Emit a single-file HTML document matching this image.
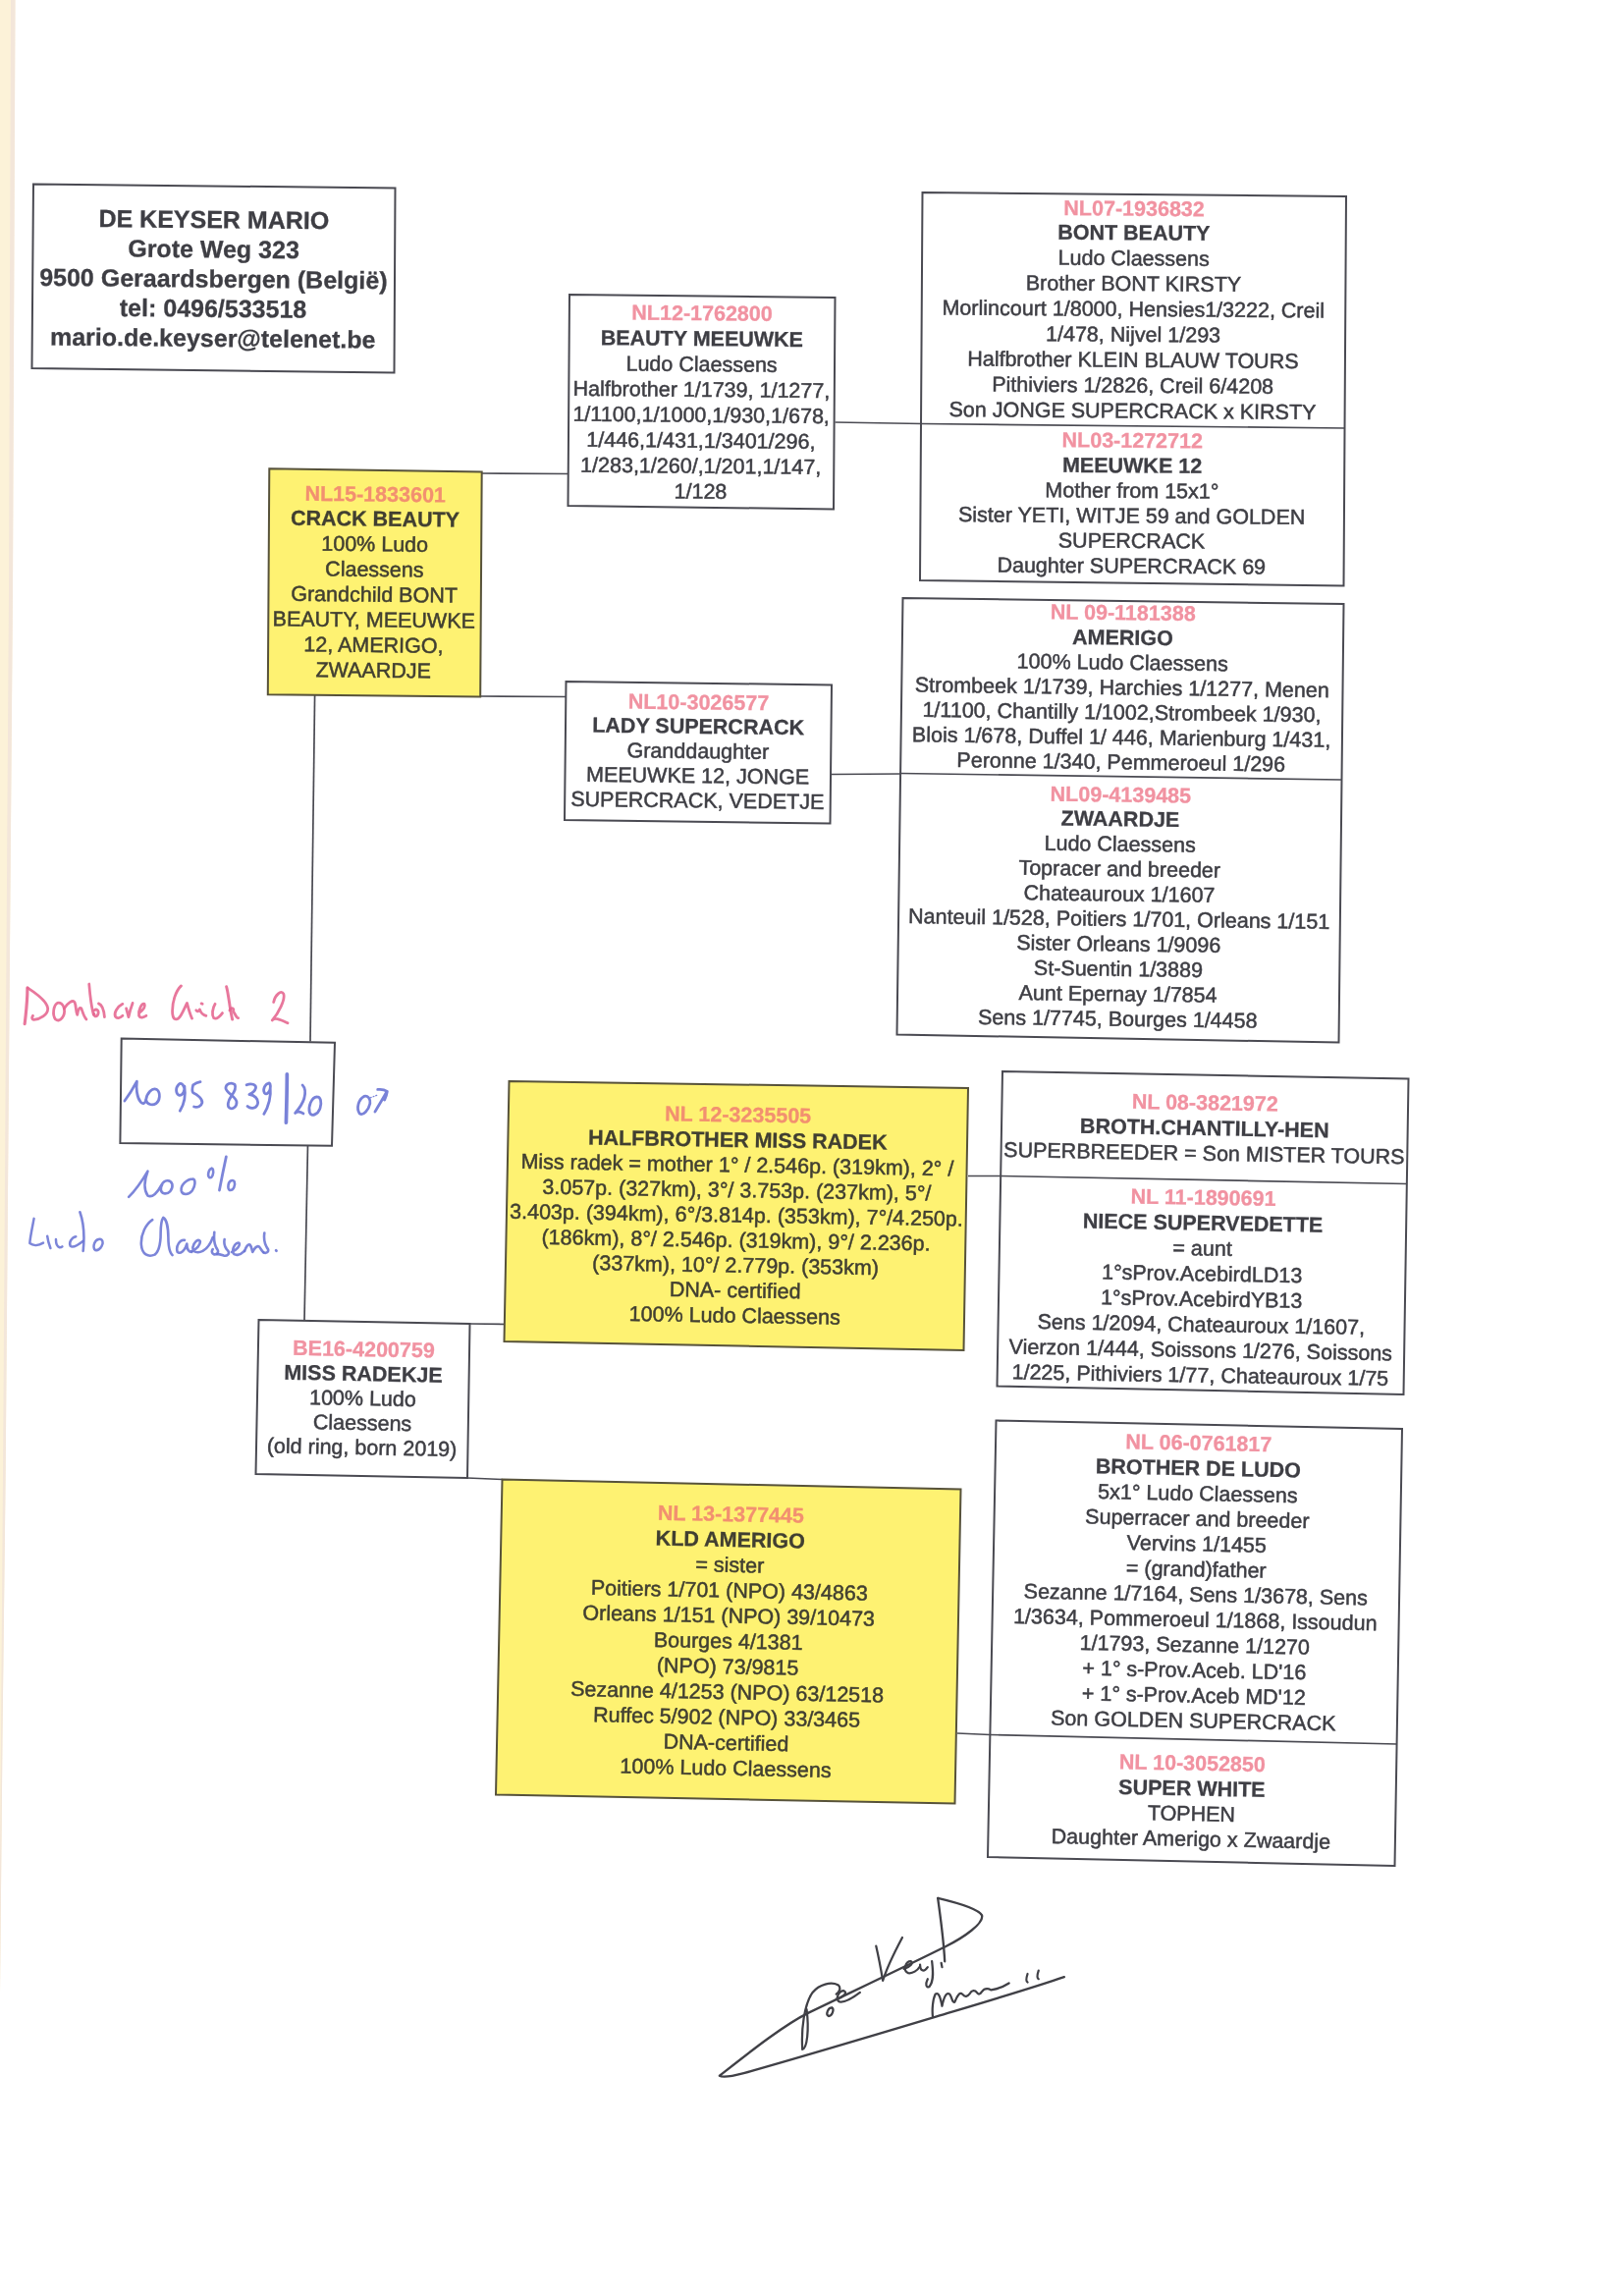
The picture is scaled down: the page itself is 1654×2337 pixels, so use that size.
<!DOCTYPE html>
<html><head><meta charset="utf-8"><title>Pedigree</title>
<style>
html,body{margin:0;padding:0;background:#ffffff;}
body{width:1654px;height:2337px;position:relative;overflow:hidden;font-family:"Liberation Sans",sans-serif;}
svg text{font-family:"Liberation Sans",sans-serif;}
</style></head><body>
<svg width="1654" height="2337" viewBox="0 0 1654 2337" style="position:absolute;left:0;top:0;filter:blur(0.6px)" font-family="Liberation Sans, sans-serif">
<defs><linearGradient id="sg" x1="0" x2="1" y1="0" y2="0"><stop offset="0" stop-color="#fdf4d6"/><stop offset="0.6" stop-color="#fcf1d8"/><stop offset="1" stop-color="#f4e6da"/></linearGradient></defs>
<polygon points="0,0 15.5,0 13,600 5.7,1500 2.6,1761 0,2030" fill="#fcf2d8"/>
<polygon points="11,0 15.5,0 13,600 5.7,1500 2.6,1761 0,2030 0,1900 3,1500 9,600" fill="#f3e6da"/>
<line x1="490.5" y1="482.0" x2="580.0" y2="482.5" stroke="#4a4a52" stroke-width="1.7"/>
<line x1="850.5" y1="430.0" x2="940.0" y2="431.5" stroke="#4a4a52" stroke-width="1.7"/>
<line x1="489.0" y1="709.0" x2="576.5" y2="709.5" stroke="#4a4a52" stroke-width="1.7"/>
<line x1="847.0" y1="788.5" x2="918.5" y2="788.0" stroke="#4a4a52" stroke-width="1.7"/>
<line x1="320.6" y1="707.0" x2="316.0" y2="1060.5" stroke="#4a4a52" stroke-width="1.7"/>
<line x1="313.5" y1="1165.0" x2="310.0" y2="1345.0" stroke="#4a4a52" stroke-width="1.7"/>
<line x1="478.5" y1="1348.0" x2="518.0" y2="1348.5" stroke="#4a4a52" stroke-width="1.7"/>
<line x1="476.0" y1="1505.0" x2="511.5" y2="1506.5" stroke="#4a4a52" stroke-width="1.7"/>
<line x1="986.0" y1="1197.5" x2="1021.0" y2="1197.5" stroke="#4a4a52" stroke-width="1.7"/>
<line x1="975.0" y1="1765.0" x2="1008.5" y2="1766.5" stroke="#4a4a52" stroke-width="1.7"/>
<polygon points="34.0,187.5 402.5,191.5 401.5,379.5 32.5,375.0" fill="#ffffff" stroke="#4a4a52" stroke-width="2" stroke-linejoin="miter"/>
<text x="217.9" y="232.2" transform="rotate(0.54 217.9 223.2)" text-anchor="middle" font-size="25" font-weight="bold" fill="#3e3e44" stroke="#3e3e44" stroke-width="0.3">DE KEYSER MARIO</text>
<text x="217.6" y="262.4" transform="rotate(0.54 217.6 253.4)" text-anchor="middle" font-size="25" font-weight="bold" fill="#3e3e44" stroke="#3e3e44" stroke-width="0.3">Grote Weg 323</text>
<text x="217.4" y="292.6" transform="rotate(0.54 217.4 283.6)" text-anchor="middle" font-size="25" font-weight="bold" fill="#3e3e44" stroke="#3e3e44" stroke-width="0.3">9500 Geraardsbergen (België)</text>
<text x="217.1" y="322.8" transform="rotate(0.54 217.1 313.9)" text-anchor="middle" font-size="25" font-weight="bold" fill="#3e3e44" stroke="#3e3e44" stroke-width="0.3">tel: 0496/533518</text>
<text x="216.8" y="353.0" transform="rotate(0.54 216.8 344.1)" text-anchor="middle" font-size="25" font-weight="bold" fill="#3e3e44" stroke="#3e3e44" stroke-width="0.3">mario.de.keyser@telenet.be</text>
<polygon points="939.5,196.0 1371.0,200.0 1368.5,596.5 937.0,591.0" fill="#ffffff" stroke="#4a4a52" stroke-width="2" stroke-linejoin="miter"/>
<line x1="938.5" y1="431.5" x2="1370.0" y2="436.0" stroke="#4a4a52" stroke-width="1.7"/>
<text x="1155.1" y="219.7" transform="rotate(0.45 1155.1 212.0)" text-anchor="middle" font-size="21.5" font-weight="bold" fill="#f192a1" stroke="#f192a1" stroke-width="0.3">NL07-1936832</text>
<text x="1154.9" y="244.3" transform="rotate(0.45 1154.9 236.6)" text-anchor="middle" font-size="21.5" font-weight="bold" fill="#3e3e44" stroke="#3e3e44" stroke-width="0.3">BONT BEAUTY</text>
<text x="1154.7" y="270.2" transform="rotate(0.45 1154.7 262.5)" text-anchor="middle" font-size="21.5" font-weight="normal" fill="#3e3e44" stroke="#3e3e44" stroke-width="0.5">Ludo Claessens</text>
<text x="1154.5" y="296.1" transform="rotate(0.45 1154.5 288.4)" text-anchor="middle" font-size="21.5" font-weight="normal" fill="#3e3e44" stroke="#3e3e44" stroke-width="0.5">Brother BONT KIRSTY</text>
<text x="1154.3" y="322.0" transform="rotate(0.45 1154.3 314.3)" text-anchor="middle" font-size="21.5" font-weight="normal" fill="#3e3e44" stroke="#3e3e44" stroke-width="0.5">Morlincourt 1/8000, Hensies1/3222, Creil</text>
<text x="1154.1" y="347.9" transform="rotate(0.45 1154.1 340.2)" text-anchor="middle" font-size="21.5" font-weight="normal" fill="#3e3e44" stroke="#3e3e44" stroke-width="0.5">1/478, Nijvel 1/293</text>
<text x="1153.9" y="373.8" transform="rotate(0.45 1153.9 366.1)" text-anchor="middle" font-size="21.5" font-weight="normal" fill="#3e3e44" stroke="#3e3e44" stroke-width="0.5">Halfbrother KLEIN BLAUW TOURS</text>
<text x="1153.7" y="399.7" transform="rotate(0.45 1153.7 392.0)" text-anchor="middle" font-size="21.5" font-weight="normal" fill="#3e3e44" stroke="#3e3e44" stroke-width="0.5">Pithiviers 1/2826, Creil 6/4208</text>
<text x="1153.5" y="425.6" transform="rotate(0.45 1153.5 417.9)" text-anchor="middle" font-size="21.5" font-weight="normal" fill="#3e3e44" stroke="#3e3e44" stroke-width="0.5">Son JONGE SUPERCRACK x KIRSTY</text>
<text x="1153.3" y="455.8" transform="rotate(0.45 1153.3 448.1)" text-anchor="middle" font-size="21.5" font-weight="bold" fill="#f192a1" stroke="#f192a1" stroke-width="0.3">NL03-1272712</text>
<text x="1153.1" y="481.4" transform="rotate(0.45 1153.1 473.7)" text-anchor="middle" font-size="21.5" font-weight="bold" fill="#3e3e44" stroke="#3e3e44" stroke-width="0.3">MEEUWKE 12</text>
<text x="1152.9" y="506.9" transform="rotate(0.45 1152.9 499.2)" text-anchor="middle" font-size="21.5" font-weight="normal" fill="#3e3e44" stroke="#3e3e44" stroke-width="0.5">Mother from 15x1°</text>
<text x="1152.7" y="532.5" transform="rotate(0.45 1152.7 524.8)" text-anchor="middle" font-size="21.5" font-weight="normal" fill="#3e3e44" stroke="#3e3e44" stroke-width="0.5">Sister YETI, WITJE 59 and GOLDEN</text>
<text x="1152.5" y="558.0" transform="rotate(0.45 1152.5 550.3)" text-anchor="middle" font-size="21.5" font-weight="normal" fill="#3e3e44" stroke="#3e3e44" stroke-width="0.5">SUPERCRACK</text>
<text x="1152.3" y="583.6" transform="rotate(0.45 1152.3 575.9)" text-anchor="middle" font-size="21.5" font-weight="normal" fill="#3e3e44" stroke="#3e3e44" stroke-width="0.5">Daughter SUPERCRACK 69</text>
<polygon points="919.5,609.0 1368.5,615.0 1363.5,1061.5 913.5,1053.5" fill="#ffffff" stroke="#4a4a52" stroke-width="2" stroke-linejoin="miter"/>
<line x1="916.5" y1="787.5" x2="1366.0" y2="794.0" stroke="#4a4a52" stroke-width="1.7"/>
<text x="1143.8" y="631.2" transform="rotate(0.77 1143.8 623.5)" text-anchor="middle" font-size="21.5" font-weight="bold" fill="#f192a1" stroke="#f192a1" stroke-width="0.3">NL 09-1181388</text>
<text x="1143.5" y="656.6" transform="rotate(0.77 1143.5 648.9)" text-anchor="middle" font-size="21.5" font-weight="bold" fill="#3e3e44" stroke="#3e3e44" stroke-width="0.3">AMERIGO</text>
<text x="1143.2" y="681.9" transform="rotate(0.77 1143.2 674.2)" text-anchor="middle" font-size="21.5" font-weight="normal" fill="#3e3e44" stroke="#3e3e44" stroke-width="0.5">100% Ludo Claessens</text>
<text x="1142.8" y="707.3" transform="rotate(0.77 1142.8 699.6)" text-anchor="middle" font-size="21.5" font-weight="normal" fill="#3e3e44" stroke="#3e3e44" stroke-width="0.5">Strombeek 1/1739, Harchies 1/1277, Menen</text>
<text x="1142.5" y="732.6" transform="rotate(0.77 1142.5 724.9)" text-anchor="middle" font-size="21.5" font-weight="normal" fill="#3e3e44" stroke="#3e3e44" stroke-width="0.5">1/1100, Chantilly 1/1002,Strombeek 1/930,</text>
<text x="1142.1" y="758.0" transform="rotate(0.77 1142.1 750.3)" text-anchor="middle" font-size="21.5" font-weight="normal" fill="#3e3e44" stroke="#3e3e44" stroke-width="0.5">Blois 1/678, Duffel 1/ 446, Marienburg 1/431,</text>
<text x="1141.8" y="783.3" transform="rotate(0.77 1141.8 775.6)" text-anchor="middle" font-size="21.5" font-weight="normal" fill="#3e3e44" stroke="#3e3e44" stroke-width="0.5">Peronne 1/340, Pemmeroeul 1/296</text>
<text x="1141.4" y="816.6" transform="rotate(0.77 1141.4 808.9)" text-anchor="middle" font-size="21.5" font-weight="bold" fill="#f192a1" stroke="#f192a1" stroke-width="0.3">NL09-4139485</text>
<text x="1141.0" y="841.2" transform="rotate(0.77 1141.0 833.6)" text-anchor="middle" font-size="21.5" font-weight="bold" fill="#3e3e44" stroke="#3e3e44" stroke-width="0.3">ZWAARDJE</text>
<text x="1140.7" y="866.7" transform="rotate(0.77 1140.7 859.0)" text-anchor="middle" font-size="21.5" font-weight="normal" fill="#3e3e44" stroke="#3e3e44" stroke-width="0.5">Ludo Claessens</text>
<text x="1140.3" y="892.1" transform="rotate(0.77 1140.3 884.5)" text-anchor="middle" font-size="21.5" font-weight="normal" fill="#3e3e44" stroke="#3e3e44" stroke-width="0.5">Topracer and breeder</text>
<text x="1140.0" y="917.6" transform="rotate(0.77 1140.0 909.9)" text-anchor="middle" font-size="21.5" font-weight="normal" fill="#3e3e44" stroke="#3e3e44" stroke-width="0.5">Chateauroux 1/1607</text>
<text x="1139.7" y="943.0" transform="rotate(0.77 1139.7 935.4)" text-anchor="middle" font-size="21.5" font-weight="normal" fill="#3e3e44" stroke="#3e3e44" stroke-width="0.5">Nanteuil 1/528, Poitiers 1/701, Orleans 1/151</text>
<text x="1139.3" y="968.5" transform="rotate(0.77 1139.3 960.8)" text-anchor="middle" font-size="21.5" font-weight="normal" fill="#3e3e44" stroke="#3e3e44" stroke-width="0.5">Sister Orleans 1/9096</text>
<text x="1139.0" y="993.9" transform="rotate(0.77 1139.0 986.3)" text-anchor="middle" font-size="21.5" font-weight="normal" fill="#3e3e44" stroke="#3e3e44" stroke-width="0.5">St-Suentin 1/3889</text>
<text x="1138.6" y="1019.4" transform="rotate(0.77 1138.6 1011.7)" text-anchor="middle" font-size="21.5" font-weight="normal" fill="#3e3e44" stroke="#3e3e44" stroke-width="0.5">Aunt Epernay 1/7854</text>
<text x="1138.3" y="1044.8" transform="rotate(0.77 1138.3 1037.2)" text-anchor="middle" font-size="21.5" font-weight="normal" fill="#3e3e44" stroke="#3e3e44" stroke-width="0.5">Sens 1/7745, Bourges 1/4458</text>
<polygon points="580.0,300.0 850.5,303.0 849.0,518.5 578.5,515.0" fill="#ffffff" stroke="#4a4a52" stroke-width="2" stroke-linejoin="miter"/>
<text x="715.1" y="326.2" transform="rotate(0.52 715.1 318.5)" text-anchor="middle" font-size="21.5" font-weight="bold" fill="#f192a1" stroke="#f192a1" stroke-width="0.3">NL12-1762800</text>
<text x="714.9" y="352.1" transform="rotate(0.52 714.9 344.4)" text-anchor="middle" font-size="21.5" font-weight="bold" fill="#3e3e44" stroke="#3e3e44" stroke-width="0.3">BEAUTY MEEUWKE</text>
<text x="714.6" y="378.1" transform="rotate(0.52 714.6 370.4)" text-anchor="middle" font-size="21.5" font-weight="normal" fill="#3e3e44" stroke="#3e3e44" stroke-width="0.5">Ludo Claessens</text>
<text x="714.4" y="404.0" transform="rotate(0.52 714.4 396.3)" text-anchor="middle" font-size="21.5" font-weight="normal" fill="#3e3e44" stroke="#3e3e44" stroke-width="0.5">Halfbrother 1/1739, 1/1277,</text>
<text x="714.2" y="429.9" transform="rotate(0.52 714.2 422.2)" text-anchor="middle" font-size="21.5" font-weight="normal" fill="#3e3e44" stroke="#3e3e44" stroke-width="0.5">1/1100,1/1000,1/930,1/678,</text>
<text x="713.9" y="455.9" transform="rotate(0.52 713.9 448.2)" text-anchor="middle" font-size="21.5" font-weight="normal" fill="#3e3e44" stroke="#3e3e44" stroke-width="0.5">1/446,1/431,1/3401/296,</text>
<text x="713.7" y="481.8" transform="rotate(0.52 713.7 474.1)" text-anchor="middle" font-size="21.5" font-weight="normal" fill="#3e3e44" stroke="#3e3e44" stroke-width="0.5">1/283,1/260/,1/201,1/147,</text>
<text x="713.5" y="507.7" transform="rotate(0.52 713.5 500.0)" text-anchor="middle" font-size="21.5" font-weight="normal" fill="#3e3e44" stroke="#3e3e44" stroke-width="0.5">1/128</text>
<polygon points="274.3,477.2 490.7,480.6 489.2,709.6 272.8,707.2" fill="#fef272" stroke="#57523a" stroke-width="2" stroke-linejoin="miter"/>
<text x="382.2" y="510.6" transform="rotate(0.64 382.2 502.9)" text-anchor="middle" font-size="21.5" font-weight="bold" fill="#f29070" stroke="#f29070" stroke-width="0.3">NL15-1833601</text>
<text x="382.0" y="535.6" transform="rotate(0.64 382.0 527.9)" text-anchor="middle" font-size="21.5" font-weight="bold" fill="#413f31" stroke="#413f31" stroke-width="0.3">CRACK BEAUTY</text>
<text x="381.7" y="561.3" transform="rotate(0.64 381.7 553.6)" text-anchor="middle" font-size="21.5" font-weight="normal" fill="#413f31" stroke="#413f31" stroke-width="0.5">100% Ludo</text>
<text x="381.4" y="587.0" transform="rotate(0.64 381.4 579.3)" text-anchor="middle" font-size="21.5" font-weight="normal" fill="#413f31" stroke="#413f31" stroke-width="0.5">Claessens</text>
<text x="381.1" y="612.7" transform="rotate(0.64 381.1 605.0)" text-anchor="middle" font-size="21.5" font-weight="normal" fill="#413f31" stroke="#413f31" stroke-width="0.5">Grandchild BONT</text>
<text x="380.8" y="638.4" transform="rotate(0.64 380.8 630.7)" text-anchor="middle" font-size="21.5" font-weight="normal" fill="#413f31" stroke="#413f31" stroke-width="0.5">BEAUTY, MEEUWKE</text>
<text x="380.5" y="664.1" transform="rotate(0.64 380.5 656.4)" text-anchor="middle" font-size="21.5" font-weight="normal" fill="#413f31" stroke="#413f31" stroke-width="0.5">12, AMERIGO,</text>
<text x="380.2" y="689.8" transform="rotate(0.64 380.2 682.1)" text-anchor="middle" font-size="21.5" font-weight="normal" fill="#413f31" stroke="#413f31" stroke-width="0.5">ZWAARDJE</text>
<polygon points="576.5,694.0 847.0,697.5 845.5,838.5 575.0,835.0" fill="#ffffff" stroke="#4a4a52" stroke-width="2" stroke-linejoin="miter"/>
<text x="711.5" y="722.4" transform="rotate(0.68 711.5 714.7)" text-anchor="middle" font-size="21.5" font-weight="bold" fill="#f192a1" stroke="#f192a1" stroke-width="0.3">NL10-3026577</text>
<text x="711.2" y="746.9" transform="rotate(0.68 711.2 739.3)" text-anchor="middle" font-size="21.5" font-weight="bold" fill="#3e3e44" stroke="#3e3e44" stroke-width="0.3">LADY SUPERCRACK</text>
<text x="710.9" y="772.1" transform="rotate(0.68 710.9 764.4)" text-anchor="middle" font-size="21.5" font-weight="normal" fill="#3e3e44" stroke="#3e3e44" stroke-width="0.5">Granddaughter</text>
<text x="710.6" y="797.2" transform="rotate(0.68 710.6 789.6)" text-anchor="middle" font-size="21.5" font-weight="normal" fill="#3e3e44" stroke="#3e3e44" stroke-width="0.5">MEEUWKE 12, JONGE</text>
<text x="710.3" y="822.4" transform="rotate(0.68 710.3 814.7)" text-anchor="middle" font-size="21.5" font-weight="normal" fill="#3e3e44" stroke="#3e3e44" stroke-width="0.5">SUPERCRACK, VEDETJE</text>
<polygon points="123.7,1057.6 341.0,1061.8 338.0,1166.8 122.4,1164.0" fill="#ffffff" stroke="#4a4a52" stroke-width="2" stroke-linejoin="miter"/>
<polygon points="263.5,1344.0 478.5,1348.0 476.0,1505.0 260.5,1501.0" fill="#ffffff" stroke="#4a4a52" stroke-width="2" stroke-linejoin="miter"/>
<text x="370.5" y="1381.2" transform="rotate(1.08 370.5 1373.5)" text-anchor="middle" font-size="21.5" font-weight="bold" fill="#f192a1" stroke="#f192a1" stroke-width="0.3">BE16-4200759</text>
<text x="370.0" y="1406.2" transform="rotate(1.08 370.0 1398.5)" text-anchor="middle" font-size="21.5" font-weight="bold" fill="#3e3e44" stroke="#3e3e44" stroke-width="0.3">MISS RADEKJE</text>
<text x="369.5" y="1431.2" transform="rotate(1.08 369.5 1423.5)" text-anchor="middle" font-size="21.5" font-weight="normal" fill="#3e3e44" stroke="#3e3e44" stroke-width="0.5">100% Ludo</text>
<text x="369.1" y="1456.2" transform="rotate(1.08 369.1 1448.5)" text-anchor="middle" font-size="21.5" font-weight="normal" fill="#3e3e44" stroke="#3e3e44" stroke-width="0.5">Claessens</text>
<text x="368.6" y="1481.2" transform="rotate(1.08 368.6 1473.5)" text-anchor="middle" font-size="21.5" font-weight="normal" fill="#3e3e44" stroke="#3e3e44" stroke-width="0.5">(old ring, born 2019)</text>
<polygon points="518.5,1101.0 986.0,1108.0 981.5,1375.0 513.5,1366.0" fill="#fef272" stroke="#57523a" stroke-width="2" stroke-linejoin="miter"/>
<text x="751.7" y="1142.4" transform="rotate(0.97 751.7 1134.7)" text-anchor="middle" font-size="21.5" font-weight="bold" fill="#f29070" stroke="#f29070" stroke-width="0.3">NL 12-3235505</text>
<text x="751.3" y="1168.0" transform="rotate(0.97 751.3 1160.3)" text-anchor="middle" font-size="21.5" font-weight="bold" fill="#413f31" stroke="#413f31" stroke-width="0.3">HALFBROTHER MISS RADEK</text>
<text x="750.9" y="1193.5" transform="rotate(0.97 750.9 1185.8)" text-anchor="middle" font-size="21.5" font-weight="normal" fill="#413f31" stroke="#413f31" stroke-width="0.5">Miss radek = mother 1° / 2.546p. (319km), 2° /</text>
<text x="750.4" y="1219.1" transform="rotate(0.97 750.4 1211.4)" text-anchor="middle" font-size="21.5" font-weight="normal" fill="#413f31" stroke="#413f31" stroke-width="0.5">3.057p. (327km), 3°/ 3.753p. (237km), 5°/</text>
<text x="750.0" y="1244.6" transform="rotate(0.97 750.0 1236.9)" text-anchor="middle" font-size="21.5" font-weight="normal" fill="#413f31" stroke="#413f31" stroke-width="0.5">3.403p. (394km), 6°/3.814p. (353km), 7°/4.250p.</text>
<text x="749.6" y="1270.2" transform="rotate(0.97 749.6 1262.5)" text-anchor="middle" font-size="21.5" font-weight="normal" fill="#413f31" stroke="#413f31" stroke-width="0.5">(186km), 8°/ 2.546p. (319km), 9°/ 2.236p.</text>
<text x="749.1" y="1295.7" transform="rotate(0.97 749.1 1288.0)" text-anchor="middle" font-size="21.5" font-weight="normal" fill="#413f31" stroke="#413f31" stroke-width="0.5">(337km), 10°/ 2.779p. (353km)</text>
<text x="748.7" y="1321.2" transform="rotate(0.97 748.7 1313.6)" text-anchor="middle" font-size="21.5" font-weight="normal" fill="#413f31" stroke="#413f31" stroke-width="0.5">DNA- certified</text>
<text x="748.3" y="1346.8" transform="rotate(0.97 748.3 1339.1)" text-anchor="middle" font-size="21.5" font-weight="normal" fill="#413f31" stroke="#413f31" stroke-width="0.5">100% Ludo Claessens</text>
<polygon points="511.5,1506.5 978.5,1516.5 972.5,1836.5 505.0,1827.5" fill="#fef272" stroke="#57523a" stroke-width="2" stroke-linejoin="miter"/>
<text x="744.4" y="1549.2" transform="rotate(1.19 744.4 1541.5)" text-anchor="middle" font-size="21.5" font-weight="bold" fill="#f29070" stroke="#f29070" stroke-width="0.3">NL 13-1377445</text>
<text x="743.8" y="1575.0" transform="rotate(1.19 743.8 1567.4)" text-anchor="middle" font-size="21.5" font-weight="bold" fill="#413f31" stroke="#413f31" stroke-width="0.3">KLD AMERIGO</text>
<text x="743.3" y="1600.9" transform="rotate(1.19 743.3 1593.2)" text-anchor="middle" font-size="21.5" font-weight="normal" fill="#413f31" stroke="#413f31" stroke-width="0.5">= sister</text>
<text x="742.8" y="1626.8" transform="rotate(1.19 742.8 1619.1)" text-anchor="middle" font-size="21.5" font-weight="normal" fill="#413f31" stroke="#413f31" stroke-width="0.5">Poitiers 1/701 (NPO) 43/4863</text>
<text x="742.2" y="1652.6" transform="rotate(1.19 742.2 1644.9)" text-anchor="middle" font-size="21.5" font-weight="normal" fill="#413f31" stroke="#413f31" stroke-width="0.5">Orleans 1/151 (NPO) 39/10473</text>
<text x="741.7" y="1678.5" transform="rotate(1.19 741.7 1670.8)" text-anchor="middle" font-size="21.5" font-weight="normal" fill="#413f31" stroke="#413f31" stroke-width="0.5">Bourges 4/1381</text>
<text x="741.1" y="1704.3" transform="rotate(1.19 741.1 1696.6)" text-anchor="middle" font-size="21.5" font-weight="normal" fill="#413f31" stroke="#413f31" stroke-width="0.5">(NPO) 73/9815</text>
<text x="740.6" y="1730.2" transform="rotate(1.19 740.6 1722.5)" text-anchor="middle" font-size="21.5" font-weight="normal" fill="#413f31" stroke="#413f31" stroke-width="0.5">Sezanne 4/1253 (NPO) 63/12518</text>
<text x="740.1" y="1756.0" transform="rotate(1.19 740.1 1748.3)" text-anchor="middle" font-size="21.5" font-weight="normal" fill="#413f31" stroke="#413f31" stroke-width="0.5">Ruffec 5/902 (NPO) 33/3465</text>
<text x="739.5" y="1781.9" transform="rotate(1.19 739.5 1774.2)" text-anchor="middle" font-size="21.5" font-weight="normal" fill="#413f31" stroke="#413f31" stroke-width="0.5">DNA-certified</text>
<text x="739.0" y="1807.7" transform="rotate(1.19 739.0 1800.0)" text-anchor="middle" font-size="21.5" font-weight="normal" fill="#413f31" stroke="#413f31" stroke-width="0.5">100% Ludo Claessens</text>
<polygon points="1021.0,1091.0 1434.5,1098.5 1429.5,1420.0 1015.5,1411.5" fill="#ffffff" stroke="#4a4a52" stroke-width="2" stroke-linejoin="miter"/>
<line x1="1019.0" y1="1197.5" x2="1432.5" y2="1205.5" stroke="#4a4a52" stroke-width="1.7"/>
<text x="1227.3" y="1130.2" transform="rotate(1.01 1227.3 1122.5)" text-anchor="middle" font-size="21.5" font-weight="bold" fill="#f192a1" stroke="#f192a1" stroke-width="0.3">NL 08-3821972</text>
<text x="1226.8" y="1156.0" transform="rotate(1.01 1226.8 1148.3)" text-anchor="middle" font-size="21.5" font-weight="bold" fill="#3e3e44" stroke="#3e3e44" stroke-width="0.3">BROTH.CHANTILLY-HEN</text>
<text x="1226.4" y="1181.7" transform="rotate(1.01 1226.4 1174.0)" text-anchor="middle" font-size="21.5" font-weight="normal" fill="#3e3e44" stroke="#3e3e44" stroke-width="0.5">SUPERBREEDER = Son MISTER TOURS</text>
<text x="1225.6" y="1226.7" transform="rotate(1.01 1225.6 1219.0)" text-anchor="middle" font-size="21.5" font-weight="bold" fill="#f192a1" stroke="#f192a1" stroke-width="0.3">NL 11-1890691</text>
<text x="1225.1" y="1252.6" transform="rotate(1.01 1225.1 1244.9)" text-anchor="middle" font-size="21.5" font-weight="bold" fill="#3e3e44" stroke="#3e3e44" stroke-width="0.3">NIECE SUPERVEDETTE</text>
<text x="1224.6" y="1278.4" transform="rotate(1.01 1224.6 1270.7)" text-anchor="middle" font-size="21.5" font-weight="normal" fill="#3e3e44" stroke="#3e3e44" stroke-width="0.5">= aunt</text>
<text x="1224.2" y="1304.3" transform="rotate(1.01 1224.2 1296.6)" text-anchor="middle" font-size="21.5" font-weight="normal" fill="#3e3e44" stroke="#3e3e44" stroke-width="0.5">1°sProv.AcebirdLD13</text>
<text x="1223.7" y="1330.1" transform="rotate(1.01 1223.7 1322.4)" text-anchor="middle" font-size="21.5" font-weight="normal" fill="#3e3e44" stroke="#3e3e44" stroke-width="0.5">1°sProv.AcebirdYB13</text>
<text x="1223.3" y="1356.0" transform="rotate(1.01 1223.3 1348.3)" text-anchor="middle" font-size="21.5" font-weight="normal" fill="#3e3e44" stroke="#3e3e44" stroke-width="0.5">Sens 1/2094, Chateauroux 1/1607,</text>
<text x="1222.8" y="1381.9" transform="rotate(1.01 1222.8 1374.2)" text-anchor="middle" font-size="21.5" font-weight="normal" fill="#3e3e44" stroke="#3e3e44" stroke-width="0.5">Vierzon 1/444, Soissons 1/276, Soissons</text>
<text x="1222.4" y="1407.7" transform="rotate(1.01 1222.4 1400.0)" text-anchor="middle" font-size="21.5" font-weight="normal" fill="#3e3e44" stroke="#3e3e44" stroke-width="0.5">1/225, Pithiviers 1/77, Chateauroux 1/75</text>
<polygon points="1014.5,1446.5 1428.0,1455.0 1420.5,1900.0 1006.0,1891.0" fill="#ffffff" stroke="#4a4a52" stroke-width="2" stroke-linejoin="miter"/>
<line x1="1008.5" y1="1766.5" x2="1423.0" y2="1776.0" stroke="#4a4a52" stroke-width="1.7"/>
<text x="1220.9" y="1476.7" transform="rotate(1.14 1220.9 1469.0)" text-anchor="middle" font-size="21.5" font-weight="bold" fill="#f192a1" stroke="#f192a1" stroke-width="0.3">NL 06-0761817</text>
<text x="1220.4" y="1502.4" transform="rotate(1.14 1220.4 1494.7)" text-anchor="middle" font-size="21.5" font-weight="bold" fill="#3e3e44" stroke="#3e3e44" stroke-width="0.3">BROTHER DE LUDO</text>
<text x="1219.9" y="1528.1" transform="rotate(1.14 1219.9 1520.4)" text-anchor="middle" font-size="21.5" font-weight="normal" fill="#3e3e44" stroke="#3e3e44" stroke-width="0.5">5x1° Ludo Claessens</text>
<text x="1219.4" y="1553.8" transform="rotate(1.14 1219.4 1546.1)" text-anchor="middle" font-size="21.5" font-weight="normal" fill="#3e3e44" stroke="#3e3e44" stroke-width="0.5">Superracer and breeder</text>
<text x="1218.8" y="1579.5" transform="rotate(1.14 1218.8 1571.8)" text-anchor="middle" font-size="21.5" font-weight="normal" fill="#3e3e44" stroke="#3e3e44" stroke-width="0.5">Vervins 1/1455</text>
<text x="1218.3" y="1605.2" transform="rotate(1.14 1218.3 1597.5)" text-anchor="middle" font-size="21.5" font-weight="normal" fill="#3e3e44" stroke="#3e3e44" stroke-width="0.5">= (grand)father</text>
<text x="1217.8" y="1630.9" transform="rotate(1.14 1217.8 1623.2)" text-anchor="middle" font-size="21.5" font-weight="normal" fill="#3e3e44" stroke="#3e3e44" stroke-width="0.5">Sezanne 1/7164, Sens 1/3678, Sens</text>
<text x="1217.3" y="1656.6" transform="rotate(1.14 1217.3 1648.9)" text-anchor="middle" font-size="21.5" font-weight="normal" fill="#3e3e44" stroke="#3e3e44" stroke-width="0.5">1/3634, Pommeroeul 1/1868, Issoudun</text>
<text x="1216.8" y="1682.3" transform="rotate(1.14 1216.8 1674.6)" text-anchor="middle" font-size="21.5" font-weight="normal" fill="#3e3e44" stroke="#3e3e44" stroke-width="0.5">1/1793, Sezanne 1/1270</text>
<text x="1216.3" y="1708.0" transform="rotate(1.14 1216.3 1700.3)" text-anchor="middle" font-size="21.5" font-weight="normal" fill="#3e3e44" stroke="#3e3e44" stroke-width="0.5">+ 1° s-Prov.Aceb. LD'16</text>
<text x="1215.8" y="1733.7" transform="rotate(1.14 1215.8 1726.0)" text-anchor="middle" font-size="21.5" font-weight="normal" fill="#3e3e44" stroke="#3e3e44" stroke-width="0.5">+ 1° s-Prov.Aceb MD'12</text>
<text x="1215.3" y="1759.4" transform="rotate(1.14 1215.3 1751.7)" text-anchor="middle" font-size="21.5" font-weight="normal" fill="#3e3e44" stroke="#3e3e44" stroke-width="0.5">Son GOLDEN SUPERCRACK</text>
<text x="1214.4" y="1802.7" transform="rotate(1.14 1214.4 1795.0)" text-anchor="middle" font-size="21.5" font-weight="bold" fill="#f192a1" stroke="#f192a1" stroke-width="0.3">NL 10-3052850</text>
<text x="1213.9" y="1828.4" transform="rotate(1.14 1213.9 1820.7)" text-anchor="middle" font-size="21.5" font-weight="bold" fill="#3e3e44" stroke="#3e3e44" stroke-width="0.3">SUPER WHITE</text>
<text x="1213.4" y="1854.1" transform="rotate(1.14 1213.4 1846.4)" text-anchor="middle" font-size="21.5" font-weight="normal" fill="#3e3e44" stroke="#3e3e44" stroke-width="0.5">TOPHEN</text>
<text x="1212.9" y="1879.8" transform="rotate(1.14 1212.9 1872.1)" text-anchor="middle" font-size="21.5" font-weight="normal" fill="#3e3e44" stroke="#3e3e44" stroke-width="0.5">Daughter Amerigo x Zwaardje</text>
<g fill="none" stroke="#e5648e" stroke-opacity="0.88" stroke-width="30" stroke-linecap="round" stroke-linejoin="round" transform="translate(15,990) scale(0.09236)">
<path d="M140,170 C140,300 125,450 110,570" stroke-width="34"/>
<path d="M145,175 C230,230 360,330 365,400 C365,470 280,520 210,525 C190,520 185,500 200,480"/>
<path d="M470,340 C430,360 410,470 450,520 C500,560 560,480 545,400 C535,350 500,330 470,340"/>
<path d="M545,400 C580,340 640,300 660,330 C680,370 670,430 690,470 C700,400 720,380 735,400 C750,440 760,490 790,520"/>
<path d="M820,130 C830,250 850,400 870,470"/>
<path d="M880,420 C900,400 930,420 920,460 C910,495 880,495 875,460"/>
<path d="M925,345 C965,360 985,430 990,495"/>
<path d="M1190,350 C1130,380 1090,450 1110,490 C1130,520 1170,500 1190,480"/>
<path d="M1230,400 C1240,440 1250,470 1255,495 C1265,440 1285,380 1300,340"/>
<path d="M1370,450 C1410,420 1445,380 1430,350 C1400,340 1360,420 1370,480 C1385,510 1420,500 1450,480"/>
</g>
<g fill="none" stroke="#e5648e" stroke-opacity="0.88" stroke-width="30" stroke-linecap="round" stroke-linejoin="round" transform="translate(160,990) scale(0.09236)">
<path d="M265,150 C210,200 160,330 170,460 C180,540 230,530 260,480 C290,430 310,380 330,340 C345,400 365,470 385,510"/>
<path d="M430,420 C445,440 460,430 470,410 C480,440 500,470 540,480"/>
<path d="M488,345 L500,350"/>
<path d="M640,350 C610,400 600,470 625,505 C650,520 690,490 720,450"/>
<path d="M765,160 C790,250 800,400 830,520" stroke-width="32"/>
<path d="M800,420 C820,380 850,400 840,430 C870,480 880,510 895,505"/>
<path d="M1285,330 C1300,250 1370,190 1395,240 C1415,300 1340,450 1270,530 C1300,495 1350,520 1440,560"/>
</g>
<g fill="none" stroke="#6a74d4" stroke-opacity="0.9" stroke-width="30" stroke-linecap="round" stroke-linejoin="round" transform="translate(120,1085) scale(0.09236)">
<path d="M75,390 C120,330 175,240 210,175 C200,250 210,350 250,400 C280,430 300,420 310,380 C320,300 380,240 430,265 C475,300 465,390 420,420 C380,445 320,430 310,380"/>
<path d="M735,290 C740,220 700,180 670,210 C630,250 640,320 680,330 C720,330 740,270 735,230 C750,330 730,430 685,500"/>
<path d="M910,180 C880,185 850,200 830,215 C820,250 815,280 830,300 C880,320 935,370 930,410 C920,450 880,465 840,455"/>
<path d="M1290,210 C1250,180 1190,200 1190,250 C1195,300 1300,340 1310,400 C1315,450 1270,490 1235,470 C1200,450 1215,390 1250,340 C1280,300 1310,250 1290,210"/>
<path d="M1420,215 C1470,190 1530,210 1520,250 C1510,290 1470,310 1450,320 C1500,320 1560,370 1540,430 C1520,480 1460,480 1430,450"/>
</g>
<g fill="none" stroke="#6a74d4" stroke-opacity="0.9" stroke-width="30" stroke-linecap="round" stroke-linejoin="round" transform="translate(260,1085) scale(0.09236)">
<path d="M150,195 C110,200 80,260 100,300 C120,330 160,300 165,250 C170,210 160,190 150,195 M165,250 C175,330 150,450 95,535"/>
<path d="M350,95 C350,250 345,450 340,630" stroke-width="40"/>
<path d="M520,215 C545,240 555,300 540,360 C520,430 470,490 440,525 C470,500 500,510 530,530"/>
<path d="M680,345 C620,350 580,450 600,520 C620,570 690,540 715,470 C735,400 720,345 680,345"/>
<path d="M1200,340 C1140,370 1110,470 1150,530 C1190,560 1250,490 1265,420 C1270,360 1240,330 1200,340"/>
<path d="M1320,510 C1360,440 1410,360 1450,290 M1350,265 C1390,260 1430,270 1455,285 C1450,320 1440,350 1425,380"/>
<path d="M1270,355 L1350,325" stroke-width="14" stroke-dasharray="10 22"/>
</g>
<g fill="none" stroke="#6a74d4" stroke-opacity="0.88" stroke-width="28" stroke-linecap="round" stroke-linejoin="round" transform="translate(120,1170) scale(0.09236)">
<path d="M120,530 C200,450 280,330 330,245 C295,340 285,450 330,515 C380,540 440,480 480,400 C510,340 580,330 600,390 C610,450 560,500 510,490 C470,480 465,430 490,390"/>
<path d="M830,330 C760,330 690,400 700,460 C710,510 780,510 820,460 C855,410 860,340 830,330"/>
<path d="M1035,215 C1000,225 985,290 1010,315 C1040,325 1060,270 1050,230 C1045,215 1040,212 1035,215"/>
<path d="M1195,85 C1170,200 1140,350 1120,455" stroke-width="30"/>
<path d="M1250,350 C1215,360 1205,440 1235,455 C1275,460 1300,400 1285,360 C1275,345 1260,345 1250,350"/>
</g>
<g fill="none" stroke="#6a74d4" stroke-opacity="0.88" stroke-width="27" stroke-linecap="round" stroke-linejoin="round" transform="translate(20,1225) scale(0.09236)">
<path d="M158,172 C135,290 112,400 112,445 C150,475 210,470 260,440"/>
<path d="M305,365 C310,410 325,460 340,498"/>
<path d="M400,400 C400,440 410,480 440,490 C455,490 465,485 470,480"/>
<path d="M620,370 C570,380 540,440 560,475 C590,500 650,460 700,420"/>
<path d="M665,100 C700,200 720,350 700,530" stroke-width="28"/>
<path d="M870,400 C830,410 805,470 825,510 C850,540 905,500 915,450 C920,410 900,395 870,400"/>
</g>
<g fill="none" stroke="#6a74d4" stroke-opacity="0.88" stroke-width="28" stroke-linecap="round" stroke-linejoin="round" transform="translate(140,1225) scale(0.09236)">
<path d="M165,185 C95,230 35,340 42,460 C50,570 120,600 190,570 C230,540 250,470 255,380 C258,300 250,210 285,160 C320,180 340,280 340,380 C340,470 350,540 385,575"/>
<path d="M520,410 C470,400 420,470 440,540 C470,570 530,520 545,450 C545,500 560,540 600,540"/>
<path d="M600,530 C650,510 700,460 690,420 C670,390 620,430 610,490 C610,540 660,560 720,530 C770,500 810,440 830,380"/>
<path d="M848,322 C840,400 850,470 880,510 C900,540 880,575 840,565 C820,555 815,530 830,510"/>
<path d="M960,400 C950,450 970,500 1000,530 C1020,560 990,590 950,580 C920,570 900,560 880,565"/>
<path d="M1040,540 C1090,520 1140,470 1120,440 C1090,430 1050,480 1050,540 C1070,590 1130,580 1180,530"/>
<path d="M1180,530 C1200,480 1220,450 1240,460 C1260,480 1260,520 1270,540 C1290,500 1320,470 1340,480 C1360,500 1370,530 1390,545"/>
<path d="M1400,330 C1390,400 1410,470 1440,510 C1450,540 1420,560 1390,545"/>
<path d="M1528,523 L1532,527" stroke-width="30"/>
</g>
<g fill="none" stroke="#404046" stroke-width="10" stroke-linecap="round" stroke-linejoin="round" transform="translate(720,1920) scale(0.234)">
<path d="M1005,55 C1090,75 1180,100 1197,130 C1205,165 1120,225 1040,265 C900,335 700,430 440,555 C330,610 180,730 55,828 C70,838 110,830 160,817 C450,735 750,645 1000,570 C1200,510 1420,445 1555,398"/>
<path d="M1005,55 C1015,130 1030,230 1035,330"/>
</g>
<g fill="none" stroke="#404046" stroke-width="13" stroke-linecap="round" stroke-linejoin="round" transform="translate(800,1960) scale(0.17241)">
<path d="M100,735 C92,620 110,470 160,400 C200,350 270,335 310,355 C330,370 320,395 300,410"/>
<path d="M100,735 C128,730 140,620 125,500"/>
<path d="M275,490 C250,490 235,530 255,540 C275,540 290,500 275,490"/>
<path d="M300,440 C340,430 370,400 345,390 C315,390 290,440 320,455 C350,460 400,430 440,400"/>
<path d="M535,125 C550,190 565,270 575,330 C600,250 650,150 690,75"/>
<path d="M700,260 C735,250 760,225 740,215 C710,215 690,270 725,285 C750,290 780,270 795,245"/>
<path d="M795,235 C795,270 815,285 840,250 M865,215 C870,260 880,330 850,365 C830,375 825,350 840,320"/>
<path d="M920,225 L925,250"/>
<path d="M870,545 C865,500 870,440 885,410 C905,395 915,430 925,480 C935,430 950,395 970,410 C985,430 985,465 1000,455 C1015,420 1030,395 1045,410 C1060,430 1075,425 1090,405 C1100,385 1120,385 1130,400 C1140,415 1150,410 1160,395 C1175,375 1195,375 1215,385 C1250,380 1290,365 1320,345"/>
<path d="M1430,290 C1420,320 1420,335 1430,340 M1495,270 C1485,300 1485,315 1495,320"/>
</g>

</svg>
</body></html>
